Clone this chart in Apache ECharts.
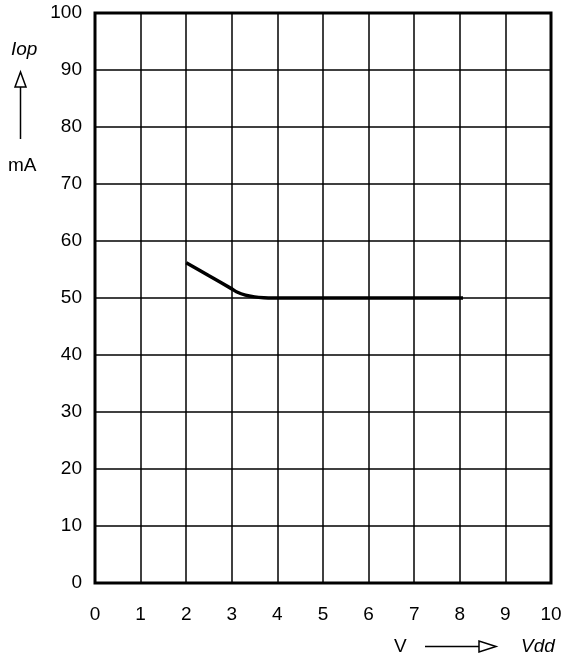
<!DOCTYPE html>
<html><head><meta charset="utf-8">
<script src="https://cdn.jsdelivr.net/npm/echarts@6/dist/echarts.min.js"></script>
<style>html,body{margin:0;padding:0;background:#fff}#c{width:567px;height:662px}</style>
</head><body><div id="c"></div>
<script>
var xVdd = [2, 2.5, 3, 3.1, 3.3, 3.5, 3.7, 3.9, 5, 6, 7, 8.07];
var yIop = [56.2, 53.9, 51.6, 51.1, 50.5, 50.2, 50.05, 50, 50, 50, 50, 50];
var xTicks = [0,1,2,3,4,5,6,7,8,9,10];
var yTicks = [0,10,20,30,40,50,60,70,80,90,100];

var chart = echarts.init(document.getElementById('c'));
var font = 'Liberation Sans, Arial, sans-serif';
chart.setOption({
  animation: false,
  grid: {left: 95, right: 16, top: 13, bottom: 79, show: true, borderColor: '#000', borderWidth: 3, backgroundColor: 'transparent'},
  xAxis: {type: 'value', min: 0, max: 10, interval: 1,
    axisLine: {show: false}, axisTick: {show: false},
    splitLine: {show: true, lineStyle: {color: '#000', width: 1.5}},
    axisLabel: {color: '#000', fontSize: 19, fontFamily: font, margin: 22}},
  yAxis: {type: 'value', min: 0, max: 100, interval: 10,
    axisLine: {show: false}, axisTick: {show: false},
    splitLine: {show: true, lineStyle: {color: '#000', width: 1.5}},
    axisLabel: {color: '#000', fontSize: 19, fontFamily: font, margin: 13, padding: [3, 0, 0, 0]}},
  series: [{type: 'line', data: xVdd.map(function(x,i){return [x, yIop[i]];}),
    symbol: 'none', smooth: 0.2, lineStyle: {color: '#000', width: 3.5}}],
  graphic: [
    {type: 'text', left: 11, top: 40, style: {text: 'Iop', font: 'italic 19px ' + font, fill: '#000'}},
    {type: 'line', shape: {x1: 20.5, y1: 87, x2: 20.5, y2: 139}, style: {stroke: '#000', lineWidth: 1.5}},
    {type: 'polygon', shape: {points: [[20.5, 72], [15, 87], [26, 87]]}, style: {fill: '#fff', stroke: '#000', lineWidth: 1.5}},
    {type: 'text', left: 8, top: 156, style: {text: 'mA', font: '19px ' + font, fill: '#000'}},
    {type: 'text', left: 394, top: 637, style: {text: 'V', font: '19px ' + font, fill: '#000'}},
    {type: 'line', shape: {x1: 425, y1: 646.5, x2: 479, y2: 646.5}, style: {stroke: '#000', lineWidth: 1.5}},
    {type: 'polygon', shape: {points: [[496, 646.5], [479, 641], [479, 652]]}, style: {fill: '#fff', stroke: '#000', lineWidth: 1.5}},
    {type: 'text', left: 521, top: 637, style: {text: 'Vdd', font: 'italic 19px ' + font, fill: '#000'}}
  ]
});
</script></body></html>
